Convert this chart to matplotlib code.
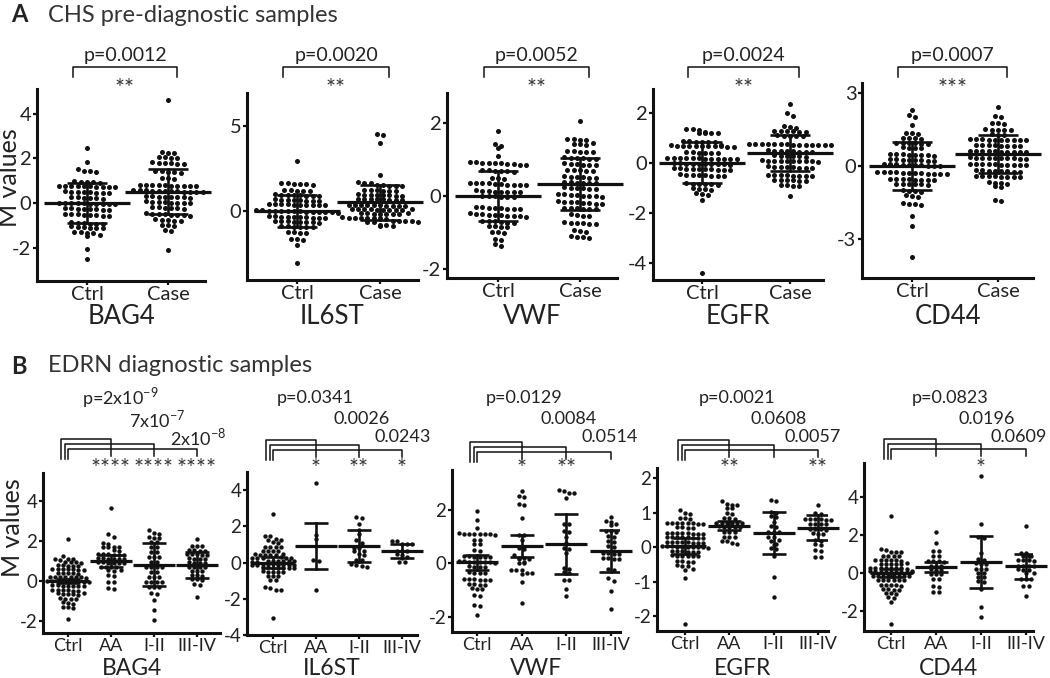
import numpy as np
import matplotlib
matplotlib.use('Agg')
import matplotlib.pyplot as plt

plt.rcParams['font.family'] = ['Lato', 'DejaVu Sans']
plt.rcParams['axes.unicode_minus'] = False
plt.rcParams['mathtext.fontset'] = 'custom'
plt.rcParams['mathtext.rm'] = 'Lato'

# -------------------------
# Panel A data (CHS pre-diagnostic, Ctrl vs Case)
# -------------------------
a_genes = ['BAG4', 'IL6ST', 'VWF', 'EGFR', 'CD44']
a_cats = ['Ctrl', 'Case']
a_pvals = ['p=0.0012', 'p=0.0020', 'p=0.0052', 'p=0.0024', 'p=0.0007']
a_stars = ['**', '**', '**', '**', '***']

a_bag4_ctrl = [2.48, 1.82, 1.50, 1.45, 1.42, 1.38, 0.97, 0.95, 0.93, 0.92, 0.90,
               0.78, 0.77, 0.76, 0.75, 0.75, 0.74, 0.73, 0.72, 0.71, 0.70,
               0.52, 0.50, 0.50, 0.48, 0.47, 0.46, 0.45, 0.44,
               0.27, 0.25, 0.24, 0.22, 0.21, 0.20,
               0.02, 0.01, 0.00, -0.01, -0.02, -0.03, -0.04, -0.05, -0.05, -0.06,
               -0.22, -0.24, -0.25, -0.26, -0.27, -0.28, -0.30, -0.31,
               -0.48, -0.50, -0.51, -0.52, -0.54, -0.55, -0.57, -0.58,
               -0.86, -0.88, -0.90, -0.92, -0.93, -0.95,
               -1.05, -1.07, -1.08, -1.10, -1.12, -1.14,
               -1.28, -1.30, -1.33, -1.36, -1.45, -1.48, -2.05, -2.50]
a_bag4_case = [4.60, 2.28, 2.25, 2.22, 2.07, 2.05, 2.03, 2.02,
               1.82, 1.80, 1.79, 1.78, 1.76, 1.75, 1.45, 1.42, 1.40, 1.38, 1.35,
               1.12, 1.10, 1.08,
               0.82, 0.81, 0.80, 0.80, 0.79, 0.78, 0.78, 0.77, 0.76, 0.75,
               0.58, 0.57, 0.56, 0.55, 0.55, 0.54, 0.53, 0.52, 0.51, 0.50, 0.50, 0.49,
               0.32, 0.30, 0.29, 0.28, 0.27, 0.26, 0.25, 0.24,
               0.07, 0.05, 0.04, 0.03, 0.02, 0.01, 0.00, -0.01,
               -0.18, -0.20, -0.21, -0.22, -0.23, -0.25,
               -0.47, -0.48, -0.50, -0.51, -0.52, -0.53, -0.55, -0.56,
               -0.73, -0.75, -0.77, -0.79, -0.80, -0.98, -1.00, -1.03,
               -1.22, -1.27, -2.10]
a_il6st_ctrl = [2.95, 1.65, 1.62, 1.60, 1.58, 1.56, 1.55, 1.25, 1.22, 1.20, 1.18, 1.15,
                0.98, 0.96, 0.95, 0.93, 0.92, 0.90, 0.88, 0.87,
                0.68, 0.66, 0.65, 0.64, 0.62, 0.61, 0.60, 0.58,
                0.42, 0.41, 0.40, 0.39, 0.38, 0.37, 0.36, 0.35, 0.34, 0.33,
                0.05, 0.03, 0.02, 0.01, 0.00, -0.01, -0.02, -0.03, -0.04, -0.05,
                -0.06, -0.07, -0.08, -0.10,
                -0.30, -0.32, -0.33, -0.35, -0.36, -0.37, -0.38, -0.40, -0.41, -0.42,
                -0.58, -0.60, -0.61, -0.62, -0.64, -0.65, -0.67, -0.68,
                -0.88, -0.90, -0.92, -0.93, -0.95, -0.97,
                -1.22, -1.25, -1.28, -1.30, -1.62, -1.65, -1.70, -2.00, -3.05]
a_il6st_case = [4.55, 4.45, 4.02, 2.10, 1.68, 1.65, 1.62, 1.52, 1.50, 1.49, 1.48, 1.47,
                1.25, 1.23, 1.21, 1.20, 1.18, 1.17,
                0.98, 0.96, 0.95, 0.94, 0.93, 0.92, 0.91, 0.90,
                0.72, 0.71, 0.70, 0.69, 0.68, 0.67, 0.66, 0.65,
                0.38, 0.37, 0.36, 0.35, 0.34, 0.33, 0.32, 0.31, 0.30, 0.29,
                0.14, 0.12, 0.11, 0.10, 0.09, 0.08, 0.07, 0.06, 0.05, 0.04,
                -0.12, -0.13, -0.14, -0.15, -0.16, -0.17, -0.18, -0.19,
                -0.38, -0.39, -0.40, -0.41, -0.42, -0.43, -0.44, -0.45,
                -0.58, -0.59, -0.60, -0.61, -0.62, -0.63, -0.64,
                -0.82, -0.85, -0.87, -0.90]
a_vwf_ctrl = [1.78, 1.42, 1.38, 1.30, 1.08,
              0.93, 0.92, 0.91, 0.90, 0.90, 0.89, 0.88, 0.87, 0.86, 0.85,
              0.72, 0.70, 0.69, 0.68, 0.67, 0.66, 0.50, 0.48, 0.46,
              0.36, 0.35, 0.34, 0.34, 0.33, 0.32, 0.31, 0.30, 0.30, 0.29,
              0.15, 0.14, 0.13, 0.12, 0.12, 0.11, 0.10, 0.10,
              0.01, 0.00, -0.01, -0.02, -0.03, -0.04,
              -0.30, -0.31, -0.32, -0.33, -0.34, -0.35, -0.36, -0.37,
              -0.48, -0.49, -0.50, -0.51, -0.52, -0.53, -0.54, -0.55, -0.56, -0.57,
              -0.68, -0.69, -0.70, -0.72, -0.73, -0.74,
              -0.82, -0.83, -0.85, -0.86, -0.98, -1.00, -1.02,
              -1.18, -1.22, -1.32, -1.38]
a_vwf_case = [2.06, 1.56, 1.55, 1.54, 1.53, 1.45, 1.43, 1.42, 1.40,
              1.24, 1.22, 1.21, 1.20, 1.19, 1.06, 1.05, 1.04, 1.03, 1.02, 1.01,
              0.89, 0.88, 0.87, 0.86, 0.85, 0.84, 0.72, 0.71, 0.70, 0.69, 0.68,
              0.54, 0.53, 0.52, 0.51, 0.50, 0.49, 0.38, 0.37, 0.36, 0.36, 0.35, 0.34,
              0.24, 0.23, 0.22, 0.21, 0.20, 0.19,
              0.05, 0.04, 0.03, 0.02, 0.01, 0.00, -0.01, -0.02,
              -0.15, -0.16, -0.17, -0.18, -0.19, -0.20, -0.21, -0.22,
              -0.32, -0.33, -0.34, -0.35, -0.36, -0.37, -0.50, -0.52, -0.54, -0.56,
              -0.72, -0.73, -0.74, -0.75, -0.76, -0.78, -0.94, -0.96, -0.98,
              -1.10, -1.12, -1.14, -1.16]
a_egfr_ctrl = [1.35, 1.33, 1.31, 1.22, 1.20, 1.19, 1.18, 1.17,
               0.86, 0.85, 0.84, 0.83, 0.82, 0.81,
               0.70, 0.69, 0.68, 0.68, 0.67, 0.67, 0.66, 0.66, 0.65, 0.65, 0.64, 0.64,
               0.42, 0.41, 0.40, 0.39, 0.38, 0.37,
               0.20, 0.19, 0.18, 0.18, 0.17, 0.17, 0.16, 0.16, 0.15, 0.15, 0.14, 0.14,
               -0.02, -0.03, -0.04, -0.04, -0.05, -0.05, -0.06, -0.06, -0.07, -0.08,
               -0.22, -0.23, -0.24, -0.25, -0.25, -0.26, -0.27, -0.28, -0.29, -0.30,
               -0.47, -0.48, -0.49, -0.50, -0.51, -0.52, -0.53, -0.54,
               -0.82, -0.84, -0.85, -0.86, -0.87, -0.88,
               -1.02, -1.04, -1.06, -1.08, -1.22, -1.25, -1.28, -1.48, -4.42]
a_egfr_case = [2.33, 2.00, 1.85, 1.45, 1.43, 1.40, 1.28, 1.27, 1.26, 1.25, 1.24, 1.23,
               1.10, 1.08, 1.07, 1.06, 1.05,
               0.76, 0.75, 0.75, 0.74, 0.74, 0.73, 0.73, 0.72, 0.72, 0.71, 0.71, 0.70, 0.70, 0.69,
               0.49, 0.48, 0.47, 0.46, 0.45, 0.44, 0.43, 0.42,
               0.29, 0.28, 0.27, 0.26, 0.25, 0.24,
               0.09, 0.08, 0.08, 0.07, 0.07, 0.06, 0.06, 0.05, 0.05, 0.04,
               -0.15, -0.16, -0.17, -0.18, -0.19, -0.20, -0.21, -0.22,
               -0.48, -0.49, -0.50, -0.51, -0.52, -0.53, -0.54, -0.55,
               -0.68, -0.69, -0.70, -0.71, -0.72, -0.73, -0.88, -0.90, -0.92, -0.94, -1.35]
a_cd44_ctrl = [2.32, 2.10, 2.04, 1.70, 1.38, 1.36, 1.34, 1.17, 1.15, 1.14, 1.12,
               0.97, 0.96, 0.95, 0.94, 0.93, 0.92, 0.77, 0.75, 0.74, 0.73,
               0.50, 0.49, 0.48, 0.47, 0.46, 0.45, 0.44, 0.43,
               0.29, 0.28, 0.27, 0.26, 0.25, 0.24, 0.23, 0.22,
               0.09, 0.08, 0.07, 0.06, 0.05, 0.04, 0.03, 0.02, 0.01, 0.00,
               -0.23, -0.24, -0.25, -0.26, -0.27, -0.28, -0.29, -0.30, -0.31, -0.32, -0.33, -0.34,
               -0.52, -0.53, -0.54, -0.55, -0.56, -0.57, -0.58, -0.59,
               -0.72, -0.73, -0.74, -0.75, -0.76, -0.77,
               -0.99, -1.01, -1.03, -1.05, -1.21, -1.24, -1.27,
               -1.54, -1.56, -1.58, -1.60, -2.05, -2.48, -3.75]
a_cd44_case = [2.43, 2.07, 2.03, 1.79, 1.77, 1.75, 1.52, 1.50, 1.49, 1.48, 1.47,
               1.32, 1.30, 1.28,
               1.11, 1.10, 1.10, 1.09, 1.09, 1.08, 1.08, 1.07, 1.07, 1.06,
               0.87, 0.86, 0.85, 0.85, 0.84, 0.83, 0.82, 0.81,
               0.63, 0.62, 0.62, 0.61, 0.61, 0.60, 0.60, 0.59, 0.59, 0.58,
               0.36, 0.35, 0.35, 0.34, 0.34, 0.33, 0.33, 0.32, 0.31, 0.30,
               0.09, 0.08, 0.08, 0.07, 0.07, 0.06, 0.06, 0.05, 0.04, 0.03,
               -0.17, -0.18, -0.19, -0.20, -0.21, -0.22, -0.23, -0.24,
               -0.39, -0.40, -0.41, -0.42, -0.43, -0.44, -0.45, -0.46,
               -0.66, -0.68, -0.70, -0.72, -0.84, -0.88, -1.40, -1.46]

# mean and SD bars
a_means = [[0.0, 0.5], [0.0, 0.5], [0.0, 0.32], [0.0, 0.4], [0.0, 0.5]]
a_sds = [[0.88, 1.01], [0.95, 1.05], [0.68, 0.71], [0.83, 0.72], [1.0, 0.77]]

# -------------------------
# Panel B data (EDRN diagnostic, Ctrl / AA / I-II / III-IV)
# -------------------------
b_genes = ['BAG4', 'IL6ST', 'VWF', 'EGFR', 'CD44']
b_cats = ['Ctrl', 'AA', 'I-II', 'III-IV']
b_pvals = [[r'p=2x10$^{\mathregular{-9}}$', r'7x10$^{\mathregular{-7}}$', r'2x10$^{\mathregular{-8}}$'],
           ['p=0.0341', '0.0026', '0.0243'],
           ['p=0.0129', '0.0084', '0.0514'],
           ['p=0.0021', '0.0608', '0.0057'],
           ['p=0.0823', '0.0196', '0.0609']]
b_stars = [['****', '****', '****'],
           ['*', '**', '*'],
           ['*', '**', ''],
           ['**', '', '**'],
           ['', '*', '']]

b_bag4_ctrl = [2.10, 1.27, 1.12, 1.10, 1.08, 1.06, 0.97, 0.95, 0.94, 0.92,
               0.80, 0.78, 0.77, 0.76, 0.75, 0.62, 0.61, 0.60, 0.59, 0.58, 0.57, 0.56,
               0.42, 0.40, 0.39, 0.38, 0.37, 0.22, 0.21, 0.20, 0.20, 0.19, 0.18, 0.18, 0.17,
               0.02, 0.01, 0.00, 0.00, -0.01, -0.02, -0.02, -0.03, -0.04,
               -0.20, -0.22, -0.23, -0.24, -0.25, -0.26, -0.27,
               -0.43, -0.45, -0.46, -0.47, -0.48, -0.50,
               -0.60, -0.62, -0.63, -0.64, -0.66, -0.68,
               -0.85, -0.88, -0.90, -0.92, -1.07, -1.10, -1.13, -1.28, -1.31, -1.34, -1.88]
b_bag4_aa = [3.65, 2.37, 2.20, 1.88, 1.86, 1.72, 1.70, 1.69, 1.68, 1.54, 1.52,
             1.35, 1.34, 1.33, 1.32, 1.31, 1.30, 1.14, 1.13, 1.12, 1.11, 1.10, 1.09,
             0.94, 0.93, 0.92, 0.91, 0.90, 0.89, 0.72, 0.71, 0.70, 0.68,
             0.54, 0.53, 0.52, 0.29, 0.27, -0.04, -0.06, -0.37, -0.39]
b_bag4_i = [2.53, 2.38, 2.36, 2.18, 2.17, 2.15, 1.96, 1.94, 1.71, 1.69, 1.46, 1.44,
            1.21, 1.20, 1.18, 0.96, 0.94, 0.71, 0.70, 0.69, 0.68, 0.46, 0.44,
            0.21, 0.20, 0.19, -0.04, -0.05, -0.06, -0.07, -0.29, -0.31, -0.32,
            -0.62, -0.64, -0.97, -1.47, -1.93]
b_bag4_iii = [2.10, 1.76, 1.75, 1.74, 1.54, 1.53, 1.52, 1.51, 1.35, 1.34, 1.33, 1.32, 1.31,
              1.13, 1.12, 1.11, 1.10, 0.93, 0.92, 0.91, 0.90, 0.71, 0.70, 0.69, 0.68,
              0.51, 0.50, 0.49, 0.29, 0.28, 0.27, 0.09, 0.08, 0.07, -0.16, -0.18, -0.80]
b_il6st_ctrl = [2.70, 1.46, 1.44, 1.28, 1.27, 1.25, 1.11, 1.09, 0.88, 0.87, 0.86, 0.85,
                0.65, 0.64, 0.63, 0.62, 0.46, 0.45, 0.44, 0.43, 0.42, 0.41,
                0.28, 0.27, 0.26, 0.25, 0.24, 0.23,
                0.11, 0.10, 0.09, 0.08, 0.07, 0.06, 0.05, 0.04,
                -0.08, -0.09, -0.10, -0.11, -0.12, -0.13, -0.14, -0.15, -0.16,
                -0.26, -0.27, -0.28, -0.29, -0.30, -0.31, -0.32,
                -0.49, -0.50, -0.51, -0.52, -0.53, -0.72, -0.74, -0.76,
                -0.95, -0.97, -1.35, -1.38, -1.50, -1.52, -3.05]
b_il6st_aa = [4.40, 1.50, 1.28, 0.12, 0.08, -1.52]
b_il6st_i = [2.52, 2.48, 2.15, 1.80, 1.55, 1.27, 1.10, 0.83, 0.80, 0.65, 0.62,
             0.46, 0.44, 0.16, 0.14, -0.09, -0.11, -0.21, -0.23]
b_il6st_iii = [1.19, 1.17, 1.05, 1.03, 1.01, 0.66, 0.64, 0.62, 0.46, 0.44,
               0.28, 0.26, 0.05, 0.03]
b_vwf_ctrl = [1.94, 1.62, 1.31, 1.12, 1.11, 1.10, 1.10, 1.09, 1.09, 1.08, 1.07,
              0.88, 0.87, 0.72, 0.71, 0.49, 0.47,
              0.27, 0.26, 0.25, 0.25, 0.24, 0.23,
              0.08, 0.07, 0.06, 0.06, 0.05, 0.05, 0.04, 0.03,
              -0.11, -0.12, -0.13, -0.14, -0.34, -0.35, -0.36, -0.37,
              -0.58, -0.59, -0.60, -0.61, -0.62, -0.63, -0.77, -0.78, -0.79, -0.80,
              -0.93, -0.94, -0.96, -1.18, -1.20, -1.55, -1.58, -1.94]
b_vwf_aa = [2.69, 2.51, 2.49, 2.20, 2.18, 1.69, 1.07, 1.05, 0.88, 0.57, 0.55, 0.31,
            0.20, 0.19, 0.18, 0.17, 0.04, 0.03, 0.02, -0.24, -0.25, -0.26,
            -0.36, -0.37, -0.38, -0.69, -1.47]
b_vwf_i = [2.72, 2.71, 2.63, 2.61, 2.44, 1.48, 1.46, 1.20, 1.18, 1.00, 0.75,
           0.57, 0.55, 0.37, -0.18, -0.20, -0.34, -0.36, -0.61, -0.63, -0.94, -1.22]
b_vwf_iii = [1.72, 1.57, 1.55, 1.45, 1.43, 1.20, 1.19, 1.18, 1.01, 0.99,
             0.82, 0.80, 0.63, 0.61, 0.38, 0.37, 0.36, 0.35, 0.20, 0.19, 0.18, 0.17,
             -0.21, -0.23, -0.56, -0.66, -1.04, -1.69]
b_egfr_ctrl = [1.06, 0.99, 0.97, 0.84, 0.83, 0.82,
               0.71, 0.71, 0.70, 0.70, 0.69, 0.69, 0.68, 0.68, 0.58, 0.57, 0.56, 0.55,
               0.42, 0.41, 0.41, 0.40, 0.40, 0.39, 0.39, 0.38,
               0.30, 0.29, 0.29, 0.28, 0.28, 0.27, 0.27, 0.26,
               0.16, 0.15, 0.15, 0.14, 0.14, 0.13, 0.13, 0.12,
               0.03, 0.02, 0.02, 0.01, 0.01, 0.00, 0.00, -0.01, -0.01, -0.02,
               -0.11, -0.12, -0.12, -0.13, -0.13, -0.14,
               -0.24, -0.25, -0.25, -0.26, -0.26, -0.27,
               -0.40, -0.41, -0.42, -0.43, -0.53, -0.54, -0.55, -0.63, -0.65, -0.90, -2.24]
b_egfr_aa = [1.32, 1.24, 1.23, 1.22, 1.14, 1.12, 0.99, 0.97, 0.84, 0.83, 0.82,
             0.71, 0.71, 0.70, 0.70, 0.69, 0.69, 0.60, 0.59, 0.59, 0.58, 0.58,
             0.45, 0.44, 0.43, 0.30, 0.29, 0.28, 0.19, 0.18, 0.11, 0.10]
b_egfr_i = [1.36, 1.34, 1.01, 0.99, 0.89, 0.87, 0.74, 0.60, 0.58, 0.45, 0.44, 0.43,
            0.30, 0.28, 0.21, 0.19, 0.09, 0.07, -0.04, -0.06, -0.25, -0.86, -1.45]
b_egfr_iii = [1.23, 0.99, 0.97, 0.82, 0.81, 0.80, 0.80, 0.79, 0.78,
              0.68, 0.67, 0.67, 0.66, 0.52, 0.51, 0.51, 0.50, 0.40, 0.39, 0.38,
              0.21, 0.19, 0.09, 0.07, -0.09, -0.11, -0.28, -0.30]
b_cd44_ctrl = [3.00, 1.26, 1.24, 1.11, 1.10, 1.09, 0.91, 0.90, 0.89, 0.88,
               0.69, 0.68, 0.68, 0.67, 0.67, 0.66, 0.51, 0.50, 0.50, 0.49, 0.49, 0.48,
               0.28, 0.27, 0.27, 0.26, 0.26, 0.25, 0.25, 0.24,
               0.10, 0.09, 0.09, 0.08, 0.08, 0.07, 0.07, 0.06, 0.06, 0.05,
               -0.13, -0.14, -0.14, -0.15, -0.15, -0.16, -0.16, -0.17,
               -0.35, -0.36, -0.36, -0.37, -0.37, -0.38,
               -0.62, -0.63, -0.64, -0.65, -0.66, -0.85, -0.86, -0.87, -0.88,
               -1.06, -1.07, -1.08, -1.28, -1.30, -1.52, -2.68]
b_cd44_aa = [2.14, 1.57, 1.17, 1.15, 0.90, 0.88, 0.64, 0.63, 0.62, 0.61,
             0.40, 0.39, 0.38, 0.19, 0.18, 0.17, -0.03, -0.04, -0.05,
             -0.31, -0.33, -0.70, -0.72, -0.97, -0.99]
b_cd44_i = [5.09, 2.59, 1.89, 1.87, 1.07, 0.72, 0.70, 0.51, 0.50, 0.49,
            0.22, 0.21, 0.20, 0.01, -0.01, -0.20, -0.22, -0.44, -0.46, -0.86, -1.79, -2.32]
b_cd44_iii = [2.50, 1.08, 1.06, 0.90, 0.89, 0.88, 0.69, 0.68, 0.67, 0.66,
              0.40, 0.39, 0.38, 0.37, 0.19, 0.18, 0.17, 0.01, -0.01,
              -0.31, -0.32, -0.33, -0.67, -0.69, -1.21]

b_means = [[0.0, 1.0, 0.82, 0.82], [0.0, 0.92, 0.92, 0.64], [0.04, 0.65, 0.72, 0.45],
           [0.03, 0.62, 0.41, 0.56], [0.0, 0.33, 0.58, 0.35]]
b_errs = [[0.08, 0.3, 1.07, 0.65], [0.3, 1.28, 0.9, 0.4], [0.28, 0.4, 1.12, 0.78],
          [0.22, 0.13, 0.61, 0.36], [0.2, 0.28, 1.35, 0.67]]

a_groups = [[a_bag4_ctrl, a_bag4_case], [a_il6st_ctrl, a_il6st_case], [a_vwf_ctrl, a_vwf_case],
            [a_egfr_ctrl, a_egfr_case], [a_cd44_ctrl, a_cd44_case]]
b_groups = [[b_bag4_ctrl, b_bag4_aa, b_bag4_i, b_bag4_iii],
            [b_il6st_ctrl, b_il6st_aa, b_il6st_i, b_il6st_iii],
            [b_vwf_ctrl, b_vwf_aa, b_vwf_i, b_vwf_iii],
            [b_egfr_ctrl, b_egfr_aa, b_egfr_i, b_egfr_iii],
            [b_cd44_ctrl, b_cd44_aa, b_cd44_i, b_cd44_iii]]

# -------------------------
# Layout in pixels: (spine x, axis right x, top y, bottom y, first cat x, last cat x)
# -------------------------
a_boxes = [(37, 205, 89, 281, 87, 168), (247, 418, 93, 280, 297, 380),
           (447, 617, 93, 278, 498, 580), (653, 823, 89, 280, 702, 790),
           (862, 1033, 83, 278, 912, 998)]
a_ylims = [(-3.49, 5.10), (-4.06, 6.94), (-2.25, 2.82), (-4.69, 2.94), (-4.62, 3.43)]
a_yticks = [[-2, 0, 2, 4], [0, 5], [-2, 0, 2], [-4, -2, 0, 2], [-3, 0, 3]]

b_boxes = [(43, 220, 473, 633, 68, 197), (247, 417, 472, 635, 273, 402),
           (452, 620, 470, 632, 477, 611), (657, 828, 468, 631, 685, 818),
           (864, 1033, 463, 631, 891, 1026)]
b_ylims = [(-2.6, 5.4), (-4.0, 5.0), (-2.56, 3.48), (-2.43, 2.29), (-3.05, 5.8)]
b_yticks = [[-2, 0, 2, 4], [-4, -2, 0, 2, 4], [-2, 0, 2], [-2, -1, 0, 1, 2], [-2, 0, 2, 4]]
b_bracket_top = [439, 440, 442, 440, 439]
b_ptext_x = [[120, 157, 198], [315, 362, 403], [524, 569, 610], [737, 779, 813], [950, 987, 1019]]
b_ptext_y = [398, 419, 437]

W, H = 1050, 678
INK = '#111111'

fig = plt.figure(figsize=(W / 100, H / 100), dpi=100)
ov = fig.add_axes([0, 0, 1, 1], zorder=10)
ov.set_xlim(0, W)
ov.set_ylim(H, 0)
ov.axis('off')


def swarm(vals, center, ppu_y, ppu_x, dx, dy):
    # Prism-like rows: points closer than dy pixels share a row
    v = sorted(vals, reverse=True)
    rows = []
    for val in v:
        if rows and (rows[-1][0] - val) * ppu_y < dy:
            rows[-1][1].append(val)
        else:
            rows.append([val, [val]])
    xs, ys = [], []
    for _, members in rows:
        k = len(members)
        for j, val in enumerate(members):
            xs.append(center + (j - (k - 1) / 2) * dx / ppu_x)
            ys.append(val)
    return xs, ys


def draw_panel(box, ylim, yticks, cats, groups, means, errs, dot, dx, dy,
               mean_hw, cap_hw, tick_fs, cat_fs):
    x0, x1, y0, y1, c0, c1 = box
    n = len(cats)
    step = (c1 - c0) / (n - 1)
    ax = fig.add_axes([x0 / W, 1 - y1 / H, (x1 - x0) / W, (y1 - y0) / H])
    ax.set_xlim((x0 - c0) / step, (n - 1) + (x1 - c1) / step)
    ax.set_ylim(*ylim)
    ppu_y = (y1 - y0) / (ylim[1] - ylim[0])
    for i, vals in enumerate(groups):
        xs, ys = swarm(vals, i, ppu_y, step, dx, dy)
        ax.scatter(xs, ys, s=dot, color=INK, linewidths=0, zorder=2, clip_on=False)
        m, e = means[i], errs[i]
        hw, cw = mean_hw / step, cap_hw / step
        ax.plot([i - hw, i + hw], [m, m], color=INK, lw=2.3, solid_capstyle='butt',
                zorder=3, clip_on=False)
        ax.plot([i, i], [m - e, m + e], color=INK, lw=1.9, zorder=3)
        for yy in (m - e, m + e):
            ax.plot([i - cw, i + cw], [yy, yy], color=INK, lw=1.9,
                    solid_capstyle='butt', zorder=3)
    ax.set_xticks(range(n))
    ax.set_xticklabels(cats, fontsize=cat_fs, color='#222222')
    ax.set_yticks(yticks)
    ax.set_yticklabels([str(t) for t in yticks], fontsize=tick_fs, color='#222222')
    for s in ('top', 'right'):
        ax.spines[s].set_visible(False)
    for s in ('left', 'bottom'):
        ax.spines[s].set_linewidth(2.2)
        ax.spines[s].set_color(INK)
    ax.tick_params(direction='out', length=3, width=1.6, pad=1, color=INK)
    ax.tick_params(axis='x', pad=0.5)
    ax.patch.set_alpha(0)
    return [c0 + i * step for i in range(n)]


# -------------------------
# Panel A
# -------------------------
ov.text(11, 15, 'A', fontsize=17, fontweight='bold', va='center', color='#222222')
ov.text(48, 15, 'CHS pre-diagnostic samples', fontsize=17, va='center', color='#333333')
ov.text(10, 178, 'M values', fontsize=18, rotation=90, ha='center', va='center', color='#222222')

for k in range(5):
    cx = draw_panel(a_boxes[k], a_ylims[k], a_yticks[k], a_cats, a_groups[k],
                    a_means[k], a_sds[k], dot=13, dx=6.3, dy=4.2,
                    mean_hw=43, cap_hw=20, tick_fs=14.5, cat_fs=14.5)
    ov.text((a_boxes[k][0] + a_boxes[k][1]) / 2, 316, a_genes[k], fontsize=18.5,
            ha='center', va='center', color='#222222')
    bl, br = cx[0] - 14, cx[1] + 9
    ov.plot([bl, bl, br, br], [77, 67, 67, 77], color=INK, lw=1.1)
    mid = (bl + br) / 2
    ov.text(mid, 55, a_pvals[k], fontsize=14, ha='center', va='center', color='#222222')
    ov.text(mid, 88, a_stars[k], fontsize=17, ha='center', va='center', color='#333333')

# -------------------------
# Panel B
# -------------------------
ov.text(11, 366, 'B', fontsize=17, fontweight='bold', va='center', color='#222222')
ov.text(48, 366, 'EDRN diagnostic samples', fontsize=17, va='center', color='#333333')
ov.text(13, 528, 'M values', fontsize=18, rotation=90, ha='center', va='center', color='#222222')

for k in range(5):
    cx = draw_panel(b_boxes[k], b_ylims[k], b_yticks[k], b_cats, b_groups[k],
                    b_means[k], b_errs[k], dot=10, dx=5.2, dy=3.6,
                    mean_hw=21, cap_hw=12, tick_fs=13.5, cat_fs=13)
    ov.text((b_boxes[k][0] + b_boxes[k][1]) / 2, 675, b_genes[k], fontsize=16.5,
            ha='center', va='baseline', color='#222222')
    top = b_bracket_top[k]
    for j in range(3):
        lx = cx[0] - 7 + 3.5 * j
        ty = top + 5 * j
        rx = cx[j + 1]
        ov.plot([lx, lx, rx, rx], [top + 20, ty, ty, top + 17], color=INK, lw=1.1)
        ov.text(b_ptext_x[k][j], b_ptext_y[j], b_pvals[k][j], fontsize=13,
                ha='center', va='center', color='#222222')
        if b_stars[k][j]:
            ov.text(rx, 469, b_stars[k][j], fontsize=17, ha='center', va='center',
                    color='#333333')

fig.savefig('out.png', dpi=100)
